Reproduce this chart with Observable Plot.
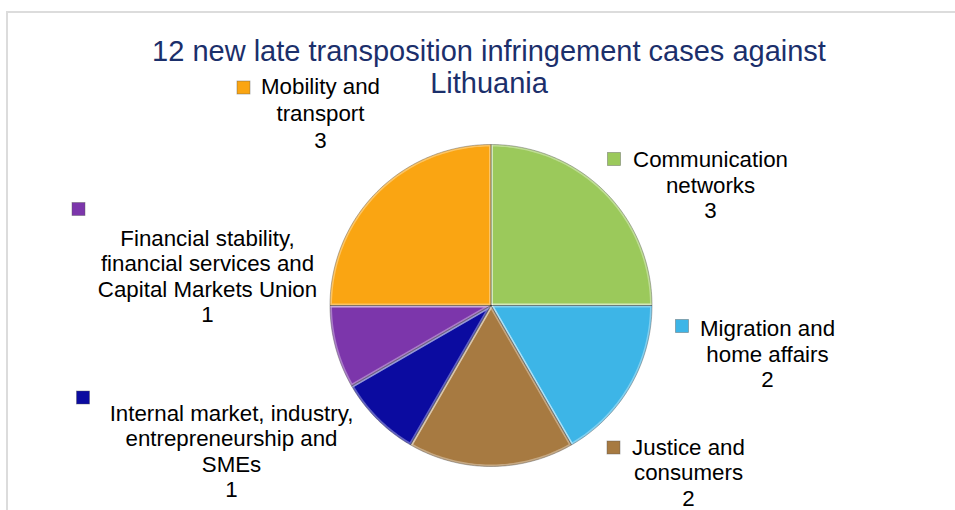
<!DOCTYPE html>
<html>
<head>
<meta charset="utf-8">
<script src="https://cdn.jsdelivr.net/npm/d3@7"></script>
<script src="https://cdn.jsdelivr.net/npm/@observablehq/plot@0.6"></script>
<style>
  html, body { margin: 0; padding: 0; background: #fff; }
  #wrap { position: relative; width: 955px; height: 510px; overflow: hidden; }
  #frame { position: absolute; left: 6px; top: 11px; width: 960px; height: 520px;
           border-top: 2px solid #dcdcdc; border-left: 2px solid #dcdcdc; box-sizing: border-box; }
  #chart { position: absolute; left: 0; top: 0; }
  svg { font-family: Arial, "Liberation Sans", sans-serif; }
</style>
</head>
<body>
<div id="wrap"><div id="frame"></div><div id="chart"></div></div>
<script>
// ---- data ----
const titleLines = ["12 new late transposition infringement cases against", "Lithuania"];
const categories = [
  "Communication networks",
  "Migration and home affairs",
  "Justice and consumers",
  "Internal market, industry, entrepreneurship and SMEs",
  "Financial stability, financial services and Capital Markets Union",
  "Mobility and transport"
];
const values = [3, 2, 2, 1, 1, 3];
const labelLines = [
  ["Communication", "networks"],
  ["Migration and", "home affairs"],
  ["Justice and", "consumers"],
  ["Internal market, industry,", "entrepreneurship and", "SMEs"],
  ["Financial stability,", "financial services and", "Capital Markets Union"],
  ["Mobility and", "transport"]
];
const colors = ["#9bc95b", "#3db5e7", "#a77a41", "#0b0ba0", "#7c36ab", "#faa512"];

// ---- layout (not data) ----
const cx = 490.5, cy = 305, R = 161;
const lineH = 25.5, fs = 22.3;
// label block: center x, first text baseline, marker center
const labelLayout = [
  {x: 710, base: 166.5, mx: 614, my: 159},
  {x: 767, base: 335.5, mx: 682, my: 326},
  {x: 688, base: 454, mx: 613.5, my: 447.5},
  {x: 231, base: 420, mx: 83, my: 397.5},
  {x: 207, base: 245, mx: 78.5, my: 209},
  {x: 320, base: 93, mx: 243.5, my: 87.5}
];

// ---- geometry from data ----
const arcs = d3.pie().sort(null).startAngle(0).endAngle(2 * Math.PI)(values);
const slicePts = [];
arcs.forEach((a, i) => {
  const cat = categories[i];
  slicePts.push({x: cx, y: cy, cat});
  const n = Math.max(2, Math.ceil((a.endAngle - a.startAngle) / (Math.PI / 180)));
  for (let k = 0; k <= n; k++) {
    const t = a.startAngle + (a.endAngle - a.startAngle) * k / n;
    slicePts.push({x: cx + R * Math.sin(t), y: cy - R * Math.cos(t), cat});
  }
  slicePts.push({x: cx, y: cy, cat});
});

const textRows = [];
labelLines.forEach((lines, i) => {
  const L = labelLayout[i];
  const step = i === 5 ? 27 : lineH;
  lines.concat([String(values[i])]).forEach((s, j) => {
    textRows.push({x: L.x, y: L.base + j * step, text: s});
  });
});
const markers = labelLayout.map((L, i) => ({x1: L.mx - 6.5, x2: L.mx + 6.5, y1: L.my - 6.5, y2: L.my + 6.5, cat: categories[i]}));
const titleRows = titleLines.map((s, j) => ({x: 488.5, y: 60 + j * 32, text: s}));

const chart = Plot.plot({
  width: 955,
  height: 510,
  margin: 0,
  style: {background: "transparent", fontFamily: "Arial, 'Liberation Sans', sans-serif"},
  x: {domain: [0, 955], range: [0, 955], axis: null},
  y: {domain: [0, 510], range: [0, 510], axis: null},
  color: {domain: categories, range: colors},
  marks: [
    Plot.line(slicePts, {x: "x", y: "y", z: "cat", fill: "cat", stroke: "white", strokeOpacity: 0.35, strokeWidth: 4, curve: "linear"}),
    Plot.line(slicePts, {x: "x", y: "y", z: "cat", fill: "none", stroke: "#333", strokeOpacity: 0.45, strokeWidth: 0.8, curve: "linear"}),
    Plot.rect(markers, {x1: "x1", x2: "x2", y1: "y1", y2: "y2", fill: "cat", stroke: "#555", strokeOpacity: 0.5, strokeWidth: 0.8}),
    Plot.text(textRows, {x: "x", y: "y", text: "text", fontSize: fs, fill: "#000", textAnchor: "middle", lineAnchor: "bottom"}),
    Plot.text(titleRows, {x: "x", y: "y", text: "text", fontSize: 29, fill: "#1b2f6b", textAnchor: "middle", lineAnchor: "bottom"})
  ]
});
document.getElementById("chart").appendChild(chart);
</script>
</body>
</html>
